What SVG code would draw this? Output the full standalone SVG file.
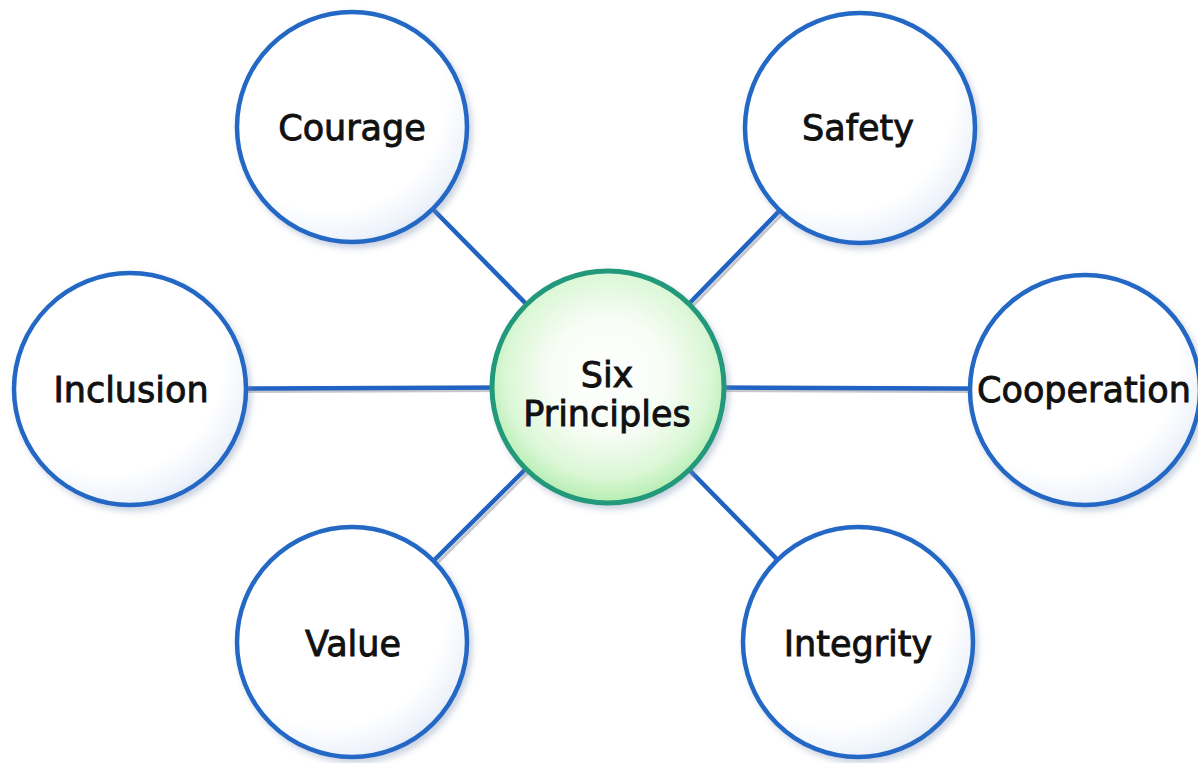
<svg xmlns="http://www.w3.org/2000/svg" width="1198" height="763" viewBox="0 0 1198 763">
  <defs>
    <radialGradient id="blueFill" cx="0.4" cy="0.36" r="0.72">
      <stop offset="0" stop-color="#ffffff"/>
      <stop offset="0.7" stop-color="#ffffff"/>
      <stop offset="0.88" stop-color="#eef3fb"/>
      <stop offset="1" stop-color="#cfdcf0"/>
    </radialGradient>
    <radialGradient id="greenFill" cx="0.5" cy="0.45" r="0.55">
      <stop offset="0" stop-color="#ffffff"/>
      <stop offset="0.45" stop-color="#f8fdf6"/>
      <stop offset="0.8" stop-color="#dbf7d6"/>
      <stop offset="1" stop-color="#b4edb0"/>
    </radialGradient>
    <filter id="shadow" x="-20%" y="-20%" width="140%" height="140%">
      <feGaussianBlur in="SourceAlpha" stdDeviation="3"/>
      <feOffset dx="3" dy="4" result="b"/>
      <feFlood flood-color="#7a8fb0" flood-opacity="0.4"/>
      <feComposite in2="b" operator="in"/>
      <feMerge>
        <feMergeNode/>
        <feMergeNode in="SourceGraphic"/>
      </feMerge>
    </filter>
  </defs>
  <style>
    .node { fill: url(#blueFill); stroke: #2468c4; stroke-width: 4.5; filter: url(#shadow); }
    .hub { fill: url(#greenFill); stroke: #22997a; stroke-width: 5; filter: url(#shadow); }
    .lbl { font-family: "DejaVu Sans", "Liberation Sans", sans-serif; font-size: 35px; fill: #111; stroke: #111; stroke-width: 0.9; text-anchor: middle; }
    .edge { stroke: #2163c2; stroke-width: 4.5; fill: none; }
    .edgeShadow { stroke: #c8c8cc; stroke-width: 3; fill: none; }
  </style>
  <rect width="1198" height="763" fill="#ffffff"/>
  <g id="connectors">
    <g transform="translate(3,3)">
      <line class="edgeShadow" x1="608" y1="387" x2="352" y2="127"/>
      <line class="edgeShadow" x1="608" y1="387" x2="860" y2="128"/>
      <line class="edgeShadow" x1="608" y1="387" x2="130" y2="389"/>
      <line class="edgeShadow" x1="608" y1="387" x2="1085" y2="389"/>
      <line class="edgeShadow" x1="608" y1="387" x2="352" y2="642"/>
      <line class="edgeShadow" x1="608" y1="387" x2="858" y2="642"/>
    </g>
    <line class="edge" x1="608" y1="387" x2="352" y2="127"/>
    <line class="edge" x1="608" y1="387" x2="860" y2="128"/>
    <line class="edge" x1="608" y1="387" x2="130" y2="389"/>
    <line class="edge" x1="608" y1="387" x2="1085" y2="389"/>
    <line class="edge" x1="608" y1="387" x2="352" y2="642"/>
    <line class="edge" x1="608" y1="387" x2="858" y2="642"/>
  </g>
  <g id="node-courage">
    <circle class="node" cx="352" cy="127" r="115"/>
    <text class="lbl" x="352" y="140">Courage</text>
  </g>
  <g id="node-safety">
    <circle class="node" cx="860" cy="128" r="115"/>
    <text class="lbl" x="858" y="140">Safety</text>
  </g>
  <g id="node-inclusion">
    <circle class="node" cx="130" cy="389" r="116"/>
    <text class="lbl" x="131" y="402">Inclusion</text>
  </g>
  <g id="node-cooperation">
    <circle class="node" cx="1085" cy="390" r="115"/>
    <text class="lbl" x="1084" y="402">Cooperation</text>
  </g>
  <g id="node-value">
    <circle class="node" cx="352" cy="642" r="115"/>
    <text class="lbl" x="353" y="656">Value</text>
  </g>
  <g id="node-integrity">
    <circle class="node" cx="858" cy="642" r="115"/>
    <text class="lbl" x="858" y="656">Integrity</text>
  </g>
  <g id="node-hub">
    <circle class="hub" cx="608" cy="387" r="116"/>
    <text class="lbl" x="607" y="387">Six</text>
    <text class="lbl" x="607" y="426">Principles</text>
  </g>
</svg>
